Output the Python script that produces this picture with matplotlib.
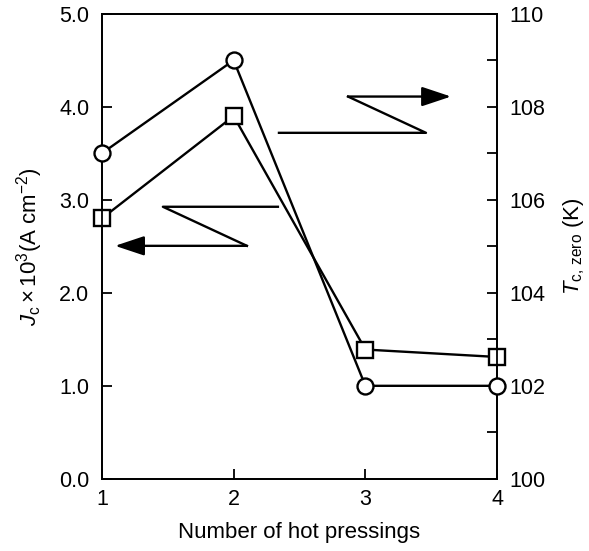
import matplotlib
matplotlib.use('Agg')
from matplotlib import pyplot as plt
from matplotlib.ticker import MultipleLocator

plt.rcParams['font.family'] = ['Liberation Sans', 'DejaVu Sans']
plt.rcParams['mathtext.fontset'] = 'custom'
plt.rcParams['mathtext.rm'] = 'Liberation Sans'
plt.rcParams['mathtext.it'] = 'Liberation Sans:italic'

# data
presses = [1, 2, 3, 4]
jc = [2.80, 3.90, 1.39, 1.31]        # Jc x 10^3 (A cm^-2), squares, left axis
tc_zero = [107.0, 109.0, 102.0, 102.0]  # Tc,zero (K), circles, right axis

fig = plt.figure(figsize=(5.89, 5.51), dpi=100)
ax = fig.add_axes([0.173, 0.131, 0.671, 0.844])
ax2 = ax.twinx()

fs_tick = 15.5
fs_lab = 16
lw = 1.7

ax.plot(presses, jc, color='black', lw=lw, marker='s', ms=11,
        mfc='white', mec='black', mew=lw, zorder=3, clip_on=False)
ax2.plot(presses, tc_zero, color='black', lw=lw, marker='o', ms=11.5,
         mfc='white', mec='black', mew=lw, zorder=3, clip_on=False)

ax.set_xlim(1, 4)
ax.set_ylim(0, 5.0)
ax2.set_ylim(100, 110)

ax.set_xticks(presses)
ax.set_yticks([0, 1, 2, 3, 4, 5])
ax.set_yticklabels([f'{v:.1f}' for v in [0, 1, 2, 3, 4, 5]])
ax2.yaxis.set_major_locator(MultipleLocator(2))
ax2.yaxis.set_minor_locator(MultipleLocator(1))

for a in (ax, ax2):
    a.tick_params(direction='in', length=7, width=1.3, labelsize=fs_tick, pad=9)
    a.tick_params(which='minor', direction='in', length=7, width=1.3)
    for s in a.spines.values():
        s.set_linewidth(1.3)
ax.tick_params(axis='x', pad=7)

ax.set_xlabel('Number of hot pressings', fontsize=fs_lab, labelpad=9)
ax.set_ylabel(r'$J_{\rm c}\times10^3$(A cm$^{-2}$)', fontsize=fs_lab, labelpad=10)
ax2.set_ylabel(r'$T_{\rm c,\,zero}$ (K)', fontsize=fs_lab, labelpad=11)

# zigzag arrows pointing to the axes
left_path_x = [2.336, 1.463, 2.101]
left_path_y = [2.925, 2.925, 2.505]
ax.plot(left_path_x, left_path_y, color='black', lw=lw)
ax.annotate('', xy=(1.10, 2.505), xytext=(2.101, 2.505),
            arrowprops=dict(arrowstyle='-|>,head_length=1.2,head_width=0.4',
                            mutation_scale=15, color='black', lw=lw,
                            shrinkA=0, shrinkB=0))

right_path_x = [2.344, 3.46, 2.868]
right_path_y = [3.72, 3.72, 4.11]
ax.plot(right_path_x, right_path_y, color='black', lw=lw)
ax.annotate('', xy=(3.65, 4.11), xytext=(2.868, 4.11),
            arrowprops=dict(arrowstyle='-|>,head_length=1.2,head_width=0.4',
                            mutation_scale=15, color='black', lw=lw,
                            shrinkA=0, shrinkB=0))

fig.savefig('out.png', dpi=100)
